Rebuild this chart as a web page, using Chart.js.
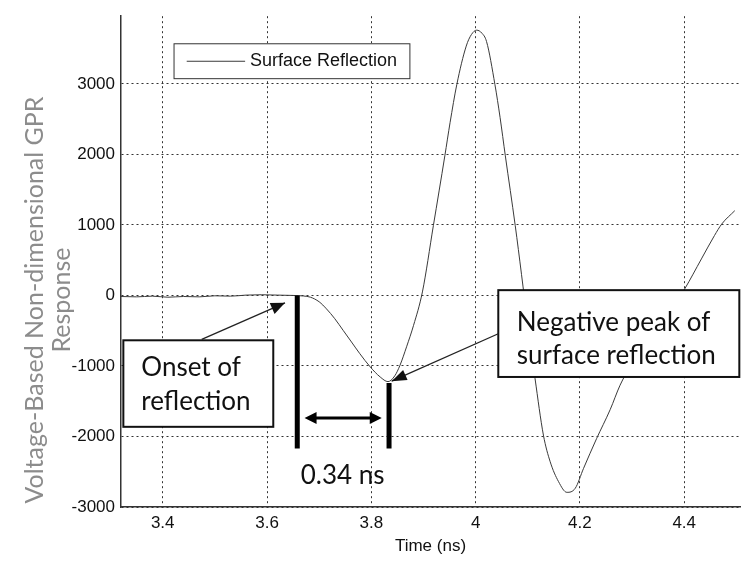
<!DOCTYPE html>
<html>
<head>
<meta charset="utf-8">
<script src="https://cdn.jsdelivr.net/npm/chart.js@4.4.1/dist/chart.umd.min.js"></script>
<style>
  html, body { margin: 0; padding: 0; background: #ffffff; }
  #wrap { width: 742px; height: 561px; }
</style>
</head>
<body>
<div id="wrap"><canvas id="gpr" width="742" height="561"></canvas></div>
<script>
// Surface reflection trace: time (ns) and non-dimensional response
const timeNs = [
  3.320, 3.350, 3.380, 3.410, 3.440, 3.470, 3.500, 3.530, 3.560, 3.590, 3.620, 3.650,
  3.670, 3.683, 3.700, 3.714, 3.730, 3.746, 3.762, 3.778, 3.798, 3.817, 3.832, 3.845,
  3.855, 3.868, 3.881, 3.898, 3.919, 3.941, 3.951, 3.964, 3.982, 3.992, 4.002, 4.012,
  4.021, 4.037, 4.047, 4.057, 4.076, 4.088, 4.100, 4.114, 4.130, 4.143, 4.159, 4.175,
  4.191, 4.207, 4.232, 4.258, 4.277, 4.300, 4.330, 4.360, 4.385, 4.401, 4.433, 4.458,
  4.472, 4.497
];
const response = [
  -15, -20, -10, -25, -15, -20, -5, -10, 5, 10, 5, 0,
  -8, -24, -90, -190, -330, -495, -660, -826, -1014, -1156, -1222, -1140,
  -990, -720, -424, 50, 990, 1980, 2450, 2993, 3536, 3700, 3762, 3720,
  3600, 2993, 2520, 1980, 990, 300, -420, -1180, -1980, -2358, -2640, -2792,
  -2735, -2452, -2030, -1620, -1273, -960, -620, -300, -90, 93, 518, 849,
  1013, 1202
];

// Axis ticks
const xTickValues = [3.4, 3.6, 3.8, 4.0, 4.2, 4.4];
const xTickLabels = ['3.4', '3.6', '3.8', '4', '4.2', '4.4'];
const yTickValues = [-3000, -2000, -1000, 0, 1000, 2000, 3000];
const yTickLabels = ['-3000', '-2000', '-1000', '0', '1000', '2000', '3000'];

// Annotation anchors (time, response)
const onsetTime = 3.658;
const peakTime = 3.834;
const peakValue = -1240;
const markerBottom = -2170;
const spanLabel = '0.34 ns';

const seriesName = 'Surface Reflection';
const yTitleLines = ['Voltage-Based Non-dimensional GPR', 'Response'];
const xTitle = 'Time (ns)';
const onsetText = ['Onset of', 'reflection'];
const peakText = ['Negative peak of', 'surface reflection'];

const points = timeNs.map((t, i) => ({ x: t, y: response[i] }));

function arrowHead(ctx, x0, y0, x1, y1, len, half) {
  const a = Math.atan2(y1 - y0, x1 - x0);
  ctx.beginPath();
  ctx.moveTo(x1, y1);
  ctx.lineTo(x1 - len * Math.cos(a) + half * Math.sin(a), y1 - len * Math.sin(a) - half * Math.cos(a));
  ctx.lineTo(x1 - len * Math.cos(a) - half * Math.sin(a), y1 - len * Math.sin(a) + half * Math.cos(a));
  ctx.closePath();
  ctx.fill();
}

function textBox(ctx, x0, y0, x1, y1, lines, textX, lineYs) {
  ctx.fillStyle = '#ffffff';
  ctx.fillRect(x0, y0, x1 - x0, y1 - y0);
  ctx.lineWidth = 2;
  ctx.strokeStyle = '#111111';
  ctx.strokeRect(x0, y0, x1 - x0, y1 - y0);
  ctx.fillStyle = '#111111';
  ctx.font = '26px Lato';
  ctx.textAlign = 'left';
  ctx.textBaseline = 'middle';
  lines.forEach((s, i) => ctx.fillText(s, textX, lineYs[i]));
}

const annotations = {
  id: 'annotations',
  afterDraw(chart) {
    const ctx = chart.ctx;
    const X = v => chart.scales.x.getPixelForValue(v);
    const Y = v => chart.scales.y.getPixelForValue(v);
    ctx.save();

    // Legend
    const lx0 = X(3.4217), lx1 = X(3.874), ly0 = Y(3569), ly1 = Y(3074);
    ctx.fillStyle = '#ffffff';
    ctx.fillRect(lx0, ly0, lx1 - lx0, ly1 - ly0);
    ctx.lineWidth = 1;
    ctx.strokeStyle = '#333333';
    ctx.strokeRect(lx0, ly0, lx1 - lx0, ly1 - ly0);
    ctx.strokeStyle = '#3a3a3a';
    ctx.beginPath();
    ctx.moveTo(X(3.446), Y(3321));
    ctx.lineTo(X(3.558), Y(3321));
    ctx.stroke();
    ctx.fillStyle = '#111111';
    ctx.font = '18px "Liberation Sans", Arial, sans-serif';
    ctx.textAlign = 'left';
    ctx.textBaseline = 'middle';
    ctx.fillText(seriesName, X(3.5674), Y(3321));

    // Onset and peak markers
    ctx.strokeStyle = '#000000';
    ctx.lineWidth = 5;
    ctx.beginPath();
    ctx.moveTo(X(onsetTime), Y(0));
    ctx.lineTo(X(onsetTime), Y(markerBottom));
    ctx.moveTo(X(peakTime), Y(peakValue));
    ctx.lineTo(X(peakTime), Y(markerBottom));
    ctx.stroke();

    // Double-headed span arrow
    const ay = Y(-1737);
    const ax0 = X(3.672), ax1 = X(3.820);
    ctx.lineWidth = 3;
    ctx.beginPath();
    ctx.moveTo(ax0 + 8, ay);
    ctx.lineTo(ax1 - 8, ay);
    ctx.stroke();
    ctx.fillStyle = '#000000';
    arrowHead(ctx, ax1, ay, ax0, ay, 12, 6);
    arrowHead(ctx, ax0, ay, ax1, ay, 12, 6);

    ctx.font = '26px Lato';
    ctx.textAlign = 'center';
    ctx.textBaseline = 'middle';
    ctx.fillStyle = '#111111';
    ctx.fillText(spanLabel, X(3.745), Y(-2556));

    // Callout: onset
    textBox(ctx, X(3.3245), Y(-636), X(3.612), Y(-1863), onsetText, X(3.359), [Y(-1017), Y(-1512)]);
    ctx.strokeStyle = '#222222';
    ctx.fillStyle = '#111111';
    ctx.lineWidth = 1.3;
    let sx = X(3.4748), sy = Y(-622), tx = X(3.6345), ty = Y(-105);
    ctx.beginPath(); ctx.moveTo(sx, sy); ctx.lineTo(tx, ty); ctx.stroke();
    arrowHead(ctx, sx, sy, tx, ty, 14, 6);

    // Callout: negative peak
    textBox(ctx, X(4.0435), Y(75), X(4.5057), Y(-1156), peakText, X(4.079), [Y(-385), Y(-856)]);
    ctx.strokeStyle = '#222222';
    ctx.fillStyle = '#111111';
    ctx.lineWidth = 1.3;
    sx = X(4.0435); sy = Y(-543); tx = X(3.839); ty = Y(-1216);
    ctx.beginPath(); ctx.moveTo(sx, sy); ctx.lineTo(tx, ty); ctx.stroke();
    arrowHead(ctx, sx, sy, tx, ty, 15, 5.5);

    // Y axis title
    ctx.fillStyle = '#8c8c8c';
    ctx.font = '25px Lato';
    ctx.textAlign = 'center';
    ctx.textBaseline = 'middle';
    ctx.translate(35, 300);
    ctx.rotate(-Math.PI / 2);
    ctx.fillText(yTitleLines[0], 0, 0);
    ctx.fillText(yTitleLines[1], 0, 27);
    ctx.restore();
  }
};

new Chart(document.getElementById('gpr'), {
  type: 'line',
  data: {
    datasets: [{
      label: seriesName,
      data: points,
      borderColor: '#3a3a3a',
      borderWidth: 1,
      pointRadius: 0,
      fill: false,
      cubicInterpolationMode: 'monotone'
    }]
  },
  options: {
    responsive: false,
    animation: false,
    devicePixelRatio: 1,
    layout: { padding: { top: 13, right: 2, left: 0, bottom: 0 } },
    plugins: {
      legend: { display: false },
      tooltip: { enabled: false }
    },
    scales: {
      x: {
        type: 'linear',
        min: 3.32,
        max: 4.507,
        afterBuildTicks: s => { s.ticks = xTickValues.map(v => ({ value: v })); },
        afterFit: s => { s.height = 54; },
        ticks: {
          padding: 6,
          color: '#111111',
          font: { family: '"Liberation Sans", Arial, sans-serif', size: 17 },
          maxRotation: 0,
          callback: (v, i) => xTickLabels[i]
        },
        grid: { color: '#333333', lineWidth: 1, drawTicks: false },
        border: { display: true, color: '#333333', width: 1.5, dash: [2, 3] },
        title: {
          display: true,
          text: xTitle,
          color: '#111111',
          font: { family: '"Liberation Sans", Arial, sans-serif', size: 17 },
          padding: { top: 0, bottom: 4 }
        }
      },
      y: {
        type: 'linear',
        min: -3000,
        max: 3960,
        afterBuildTicks: s => { s.ticks = yTickValues.map(v => ({ value: v })); },
        afterFit: s => { s.width = 121; },
        ticks: {
          padding: 6,
          color: '#111111',
          font: { family: '"Liberation Sans", Arial, sans-serif', size: 17 },
          callback: (v, i) => yTickLabels[i]
        },
        grid: { color: '#333333', lineWidth: 1, drawTicks: false },
        border: { display: true, color: '#333333', width: 1.5, dash: [2, 3] }
      }
    }
  },
  plugins: [annotations]
});
</script>
</body>
</html>
